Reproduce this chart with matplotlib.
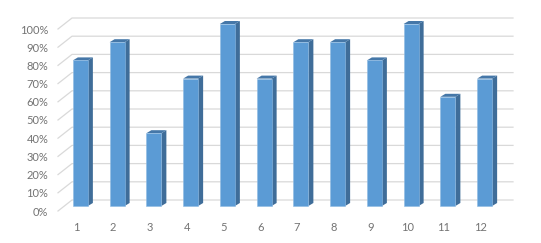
"""
Excel-style 3D column chart: share per category (1-12).
"""

import matplotlib.pyplot as plt
from matplotlib.patches import Polygon

categories = [str(i) for i in range(1, 13)]
values = [0.80, 0.90, 0.40, 0.70, 1.00, 0.70, 0.90, 0.90, 0.80, 1.00, 0.60, 0.70]
y_ticks = [0.0, 0.1, 0.2, 0.3, 0.4, 0.5, 0.6, 0.7, 0.8, 0.9, 1.0]
y_tick_labels = [f"{int(round(t * 100))}%" for t in y_ticks]

W, H, DPI = 541, 243, 100
fig = plt.figure(figsize=(W / DPI, H / DPI), dpi=DPI)
plt.rcParams['font.family'] = ['Lato', 'DejaVu Sans']

# front plane of the plot area in pixels (left, top, width, height)
ax_l, ax_t, ax_w, ax_h = 58, 29, 441, 182
ax = fig.add_axes([ax_l / W, (H - ax_t - ax_h) / H, ax_w / W, ax_h / H])
ax.set_xlim(0.5, 12.5)
ax.set_ylim(0, 1)

# pixel -> data unit factors
kx = 12 / ax_w
ky = 1 / ax_h

# depth offsets in pixels
wall_dx, wall_dy = 14, 11   # back wall
bar_dx, bar_dy = 4, 5       # front face of columns
side_dx, side_dy = 5, 3     # column depth

grid_color = "#d9d9d9"
for t in y_ticks:
    xs = [0.5, 0.5 + wall_dx * kx, 12.5 + wall_dx * kx]
    ys = [t, t + wall_dy * ky, t + wall_dy * ky]
    ax.plot(xs, ys, color=grid_color, lw=0.9, clip_on=False, zorder=1)

bar_w = 15 * kx
front_c = "#5b9bd5"
side_c = "#3f6d99"
top_c = "#4577a8"
for i, v in enumerate(values):
    cx = i + 1 + bar_dx * kx
    x0, x1 = cx - bar_w / 2, cx + bar_w / 2
    y0, y1 = bar_dy * ky, v + bar_dy * ky
    sx, sy = side_dx * kx, side_dy * ky
    side = Polygon([(x1, y0), (x1 + sx, y0 + sy), (x1 + sx, y1 + sy), (x1, y1)],
                   closed=True, fc=side_c, ec="none", clip_on=False, zorder=3)
    top = Polygon([(x0, y1), (x1, y1), (x1 + sx, y1 + sy), (x0 + sx, y1 + sy)],
                  closed=True, fc=top_c, ec="none", clip_on=False, zorder=3)
    front = Polygon([(x0, y0), (x1, y0), (x1, y1), (x0, y1)],
                    closed=True, fc=front_c, ec="#8fbbe3", lw=0.4, clip_on=False, zorder=4)
    ax.add_patch(side)
    ax.add_patch(top)
    ax.add_patch(front)

ax.set_xticks(range(1, 13))
ax.set_xticklabels(categories)
ax.set_yticks(y_ticks)
ax.set_yticklabels(y_tick_labels)
ax.tick_params(axis="both", length=0, labelsize=8, colors="#737373")
ax.tick_params(axis="y", pad=7)
ax.tick_params(axis="x", pad=8)
for s in ax.spines.values():
    s.set_visible(False)
ax.set_facecolor("none")

fig.savefig("out.png", dpi=DPI, facecolor="white")
